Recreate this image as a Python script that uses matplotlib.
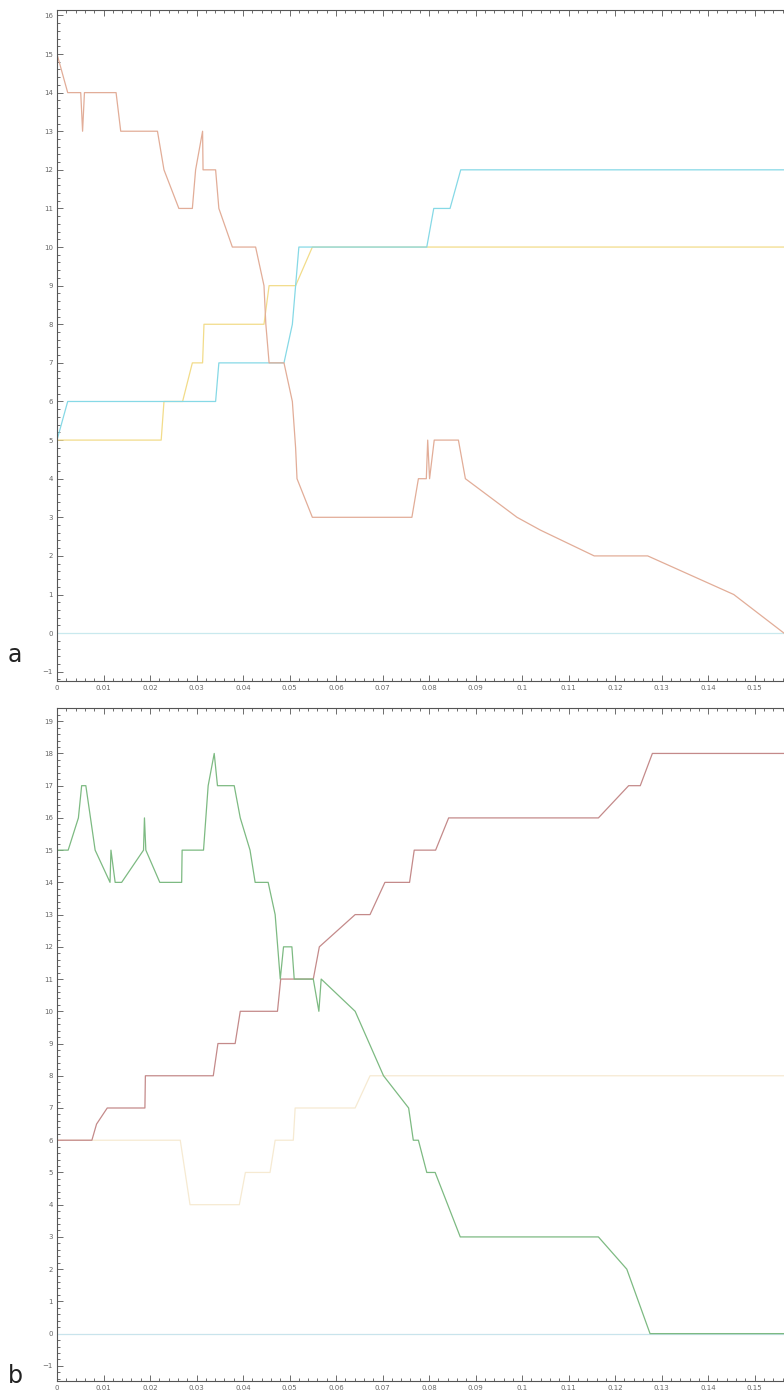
import numpy as np
import matplotlib
matplotlib.use("Agg")
import matplotlib.pyplot as plt
from matplotlib.ticker import MultipleLocator, FuncFormatter

# panel a data
a_orange_x = [0, 0.0023, 0.0051, 0.0055, 0.0059, 0.0127, 0.0137, 0.0216, 0.023, 0.0262, 0.0291,
              0.0298, 0.0313, 0.0314, 0.0341, 0.0348, 0.0377, 0.0427, 0.0445, 0.0449, 0.0456,
              0.0488, 0.0506, 0.0513, 0.0516, 0.0549, 0.0763, 0.0777, 0.0794, 0.0797, 0.0801,
              0.0811, 0.0863, 0.0878, 0.0989, 0.1039, 0.1155, 0.127, 0.1455, 0.1563]
a_orange_y = [15, 14, 14, 13, 14, 14, 13, 13, 12, 11, 11,
              12, 13, 12, 12, 11, 10, 10, 9, 8, 7,
              7, 6, 4.8, 4, 3, 3, 4, 4, 5, 4,
              5, 5, 4, 3, 2.67, 2, 2, 1, 0]
a_cyan_x = [0, 0.0023, 0.0341, 0.0348, 0.0488, 0.0506, 0.0513, 0.052, 0.0795, 0.081, 0.0845, 0.0868, 0.1563]
a_cyan_y = [5, 6, 6, 7, 7, 8, 9, 10, 10, 11, 11, 12, 12]
a_yellow_x = [0, 0.0224, 0.023, 0.027, 0.0291, 0.0313, 0.0316, 0.0445, 0.0456, 0.0513, 0.0549, 0.1563]
a_yellow_y = [5, 5, 6, 6, 7, 7, 8, 8, 9, 9, 10, 10]

# panel b data
b_green_x = [0, 0.0024, 0.0046, 0.0053, 0.0062, 0.0082, 0.0114, 0.0116, 0.0125, 0.0139, 0.0186,
             0.0188, 0.0191, 0.0221, 0.0268, 0.0269, 0.0315, 0.0325, 0.0338, 0.0345, 0.0381,
             0.0394, 0.0415, 0.0426, 0.0454, 0.0469, 0.048, 0.0487, 0.0505, 0.051, 0.0551,
             0.0563, 0.0568, 0.0641, 0.0702, 0.0756, 0.0766, 0.0777, 0.0795, 0.0813, 0.0867,
             0.1164, 0.1225, 0.1275, 0.1563]
b_green_y = [15, 15, 16, 17, 17, 15, 14, 15, 14, 14, 15,
             16, 15, 14, 14, 15, 15, 17, 18, 17, 17,
             16, 15, 14, 14, 13, 11, 12, 12, 11, 11,
             10, 11, 10, 8, 7, 6, 6, 5, 5, 3,
             3, 2, 0, 0]
b_red_x = [0, 0.0075, 0.0085, 0.0108, 0.0189, 0.019, 0.0336, 0.0346, 0.0383, 0.0394, 0.0474,
           0.0481, 0.0551, 0.0564, 0.0641, 0.0673, 0.0705, 0.0758, 0.0768, 0.0814, 0.0842,
           0.1164, 0.1229, 0.1254, 0.128, 0.1563]
b_red_y = [6, 6, 6.5, 7, 7, 8, 8, 9, 9, 10, 10,
           11, 11, 12, 13, 13, 14, 14, 15, 15, 16,
           16, 17, 17, 18, 18]
b_yellow_x = [0, 0.0265, 0.0286, 0.0392, 0.0405, 0.0458, 0.0469, 0.0508, 0.0512, 0.0641, 0.0673, 0.1563]
b_yellow_y = [6, 6, 4, 4, 5, 5, 6, 6, 7, 7, 8, 8]

zero_x = [0, 0.1563]
zero_y = [0, 0]

XMAX = 0.1563


def fmt_x(v, pos):
    return f"{round(v, 3):g}"


def style_axes(ax, ylo, yhi):
    ax.set_xlim(0, XMAX)
    ax.set_ylim(ylo, yhi)
    ax.xaxis.set_major_locator(MultipleLocator(0.01))
    ax.xaxis.set_minor_locator(MultipleLocator(0.002))
    ax.yaxis.set_major_locator(MultipleLocator(1))
    ax.yaxis.set_minor_locator(MultipleLocator(0.2))
    ax.xaxis.set_major_formatter(FuncFormatter(fmt_x))
    ax.tick_params(which='both', direction='in', top=True, right=False,
                   color='#555555', labelsize=5, labelcolor='#666666', width=0.6)
    ax.tick_params(which='major', length=4, pad=3)
    ax.tick_params(which='minor', length=2)
    for s in ['left', 'top', 'bottom']:
        ax.spines[s].set_color('#555555')
        ax.spines[s].set_linewidth(0.8)
    ax.spines['right'].set_visible(False)


fig = plt.figure(figsize=(7.84, 13.92), dpi=100)

ax1 = fig.add_axes([57 / 784, 1 - 681 / 1392, 1 - 57 / 784, 671 / 1392])
ax1.plot(zero_x, zero_y, color='#c9e9ee', lw=0.9)
ax1.plot(a_yellow_x, a_yellow_y, color='#f2dc8a', lw=0.9)
ax1.plot(a_cyan_x, a_cyan_y, color='#86d9e6', lw=0.9)
ax1.plot(a_orange_x, a_orange_y, color='#e2ad98', lw=0.9)
style_axes(ax1, -1.24, 16.14)

ax2 = fig.add_axes([57 / 784, 1 - 1381 / 1392, 1 - 57 / 784, 673 / 1392])
ax2.plot(zero_x, zero_y, color='#c9e4ec', lw=0.9)
ax2.plot(b_yellow_x, b_yellow_y, color='#f6ead2', lw=0.9)
ax2.plot(b_red_x, b_red_y, color='#c48a8a', lw=0.9)
ax2.plot(b_green_x, b_green_y, color='#7dba82', lw=0.9)
style_axes(ax2, -1.47, 19.41)

fig.text(15 / 784, 1 - 655 / 1392, 'a', fontsize=17, ha='center', va='center', color='#222222')
fig.text(15 / 784, 1 - 1376 / 1392, 'b', fontsize=17, ha='center', va='center', color='#222222')

fig.savefig('out.png', dpi=100)
